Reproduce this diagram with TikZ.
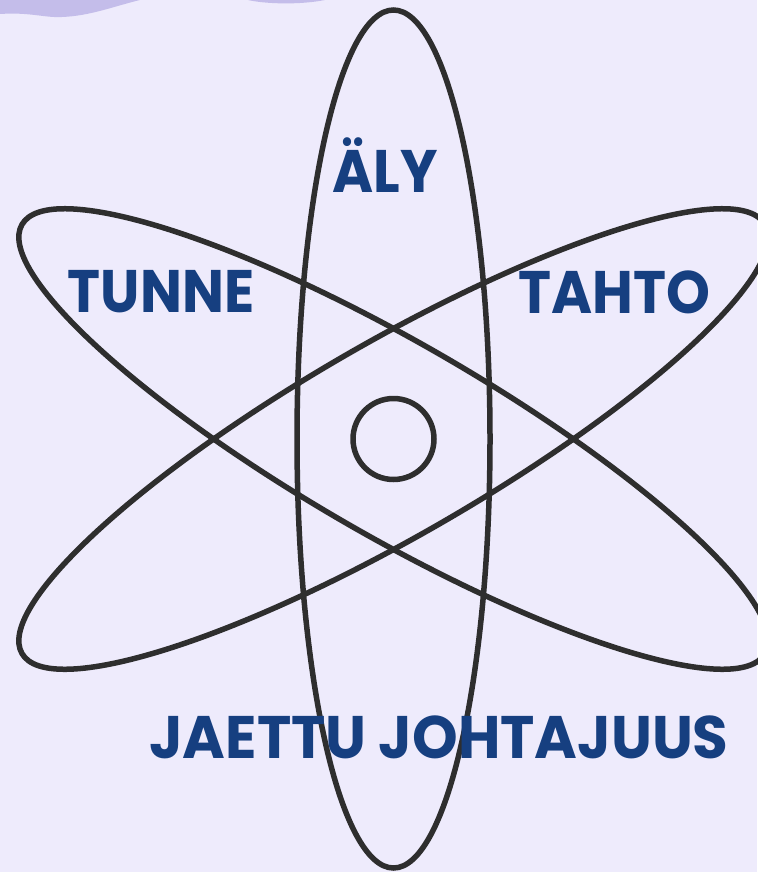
\documentclass[tikz,border=0pt]{standalone}
\usepackage{fontspec}
\setmainfont{Poppins}
\definecolor{bgcol}{HTML}{EEEBFC}
\definecolor{wavecol}{HTML}{C4BDEA}
\definecolor{linecol}{HTML}{2E2E2E}
\definecolor{wordcol}{HTML}{163F80}
\tikzset{
  orbit/.style={
    draw=linecol,
    line width=5.5pt
  },
  word/.style={
    text=wordcol,
    inner sep=0pt,
    anchor=base,
    xscale=0.93,
    font=\fontsize{60}{60}\selectfont\bfseries
  },
  wave/.style={
    fill=wavecol
  }
}
\begin{document}
\begin{tikzpicture}[x=1pt, y=-1pt]
    \useasboundingbox (0,0) rectangle (757,872);
    \fill[bgcol] (0,0) rectangle (757,872);
    % waves at the top edge
    \fill[wave] (0,0) -- (0,14) .. controls (30,12) and (45,18) .. (62,17)
        .. controls (90,16) and (115,6) .. (140,0) -- cycle;
    \fill[wave] (248,0) .. controls (265,4) and (300,5) .. (325,0) -- cycle;

    \coordinate (nucleus) at (393.5,439);
    \foreach \ang in {0,60,-60}
        \draw[orbit, rotate around={\ang:(nucleus)}] (nucleus) ellipse [x radius=96.5, y radius=429];
    \draw[orbit] (nucleus) circle [radius=40.5];

    \node[word] (aly) at (385,192) {ÄLY};
    \node[word] (tunne) at (161,312) {TUNNE};
    \node[word] (tahto) at (614,313) {TAHTO};
    \node[word, xscale=1.04] (jaettu) at (439,758) {JAETTU JOHTAJUUS};
\end{tikzpicture}
\end{document}
